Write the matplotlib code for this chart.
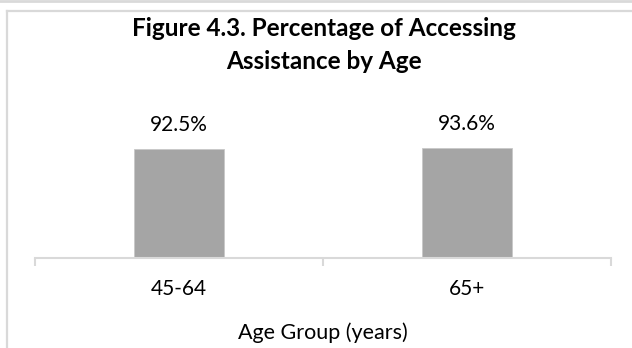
import matplotlib
matplotlib.use("Agg")
import matplotlib.pyplot as plt
from matplotlib.lines import Line2D

plt.rcParams['font.family'] = ['Lato', 'DejaVu Sans']

categories = ["45-64", "65+"]
values = [92.5, 93.6]
title = "Figure 4.3. Percentage of Accessing\nAssistance by Age"
xlabel = "Age Group (years)"

W, H = 632, 348
fig = plt.figure(figsize=(W / 100, H / 100), dpi=100)
fig.patch.set_facecolor("white")

def fx(px):
    return px / W

def fy(py):
    return 1 - py / H

# outer frame pieces
border = "#d9d9d9"
fig.add_artist(Line2D([0, 1], [fy(1), fy(1)], color=border, lw=2.0, transform=fig.transFigure))
fig.add_artist(Line2D([fx(7), 1], [fy(11), fy(11)], color=border, lw=1.6, transform=fig.transFigure))
fig.add_artist(Line2D([fx(7), fx(7)], [fy(11), 0], color=border, lw=1.6, transform=fig.transFigure))

# plot area: 0..100 maps onto 117.5 px
ax_left, ax_right = 35, 611
ax_bottom = 257.7
ax_top = ax_bottom - 117.5
ax = fig.add_axes([fx(ax_left), fy(ax_bottom), fx(ax_right - ax_left), (ax_bottom - ax_top) / H])
ax.set_facecolor("none")

x = list(range(len(categories)))
bars = ax.bar(x, values, width=0.31, color="#a5a5a5", edgecolor="#c8c8c8", linewidth=0.6, zorder=2)
ax.set_xlim(-0.5, len(categories) - 0.5)
ax.set_ylim(0, 100)

for b, v in zip(bars, values):
    ax.annotate(f"{v:.1f}%", xy=(b.get_x() + b.get_width() / 2, v), xytext=(0, 13),
                textcoords="offset points", ha="center", va="baseline",
                fontsize=15, color="black", annotation_clip=False)

for s in ("top", "right", "left"):
    ax.spines[s].set_visible(False)
ax.spines["bottom"].set_color(border)
ax.spines["bottom"].set_linewidth(1.5)
ax.set_yticks([])
ax.set_xticks([-0.5, 0.5, 1.5], minor=False)
ax.set_xticklabels([])
ax.tick_params(axis="x", which="major", length=5.5, width=1.5, color=border)
ax.set_xticks(x, minor=True)
ax.set_xticklabels(categories, minor=True, fontsize=15)
ax.tick_params(axis="x", which="minor", length=0, pad=15)

fig.text(fx(323), fy(339), xlabel, ha="center", va="baseline", fontsize=15.5)
fig.text(fx(324), fy(35.5), title.split("\n")[0], ha="center", va="baseline",
         fontsize=17.5, fontweight="bold")
fig.text(fx(324), fy(68.7), title.split("\n")[1], ha="center", va="baseline",
         fontsize=17.5, fontweight="bold")

fig.savefig("out.png", dpi=100, facecolor="white")
